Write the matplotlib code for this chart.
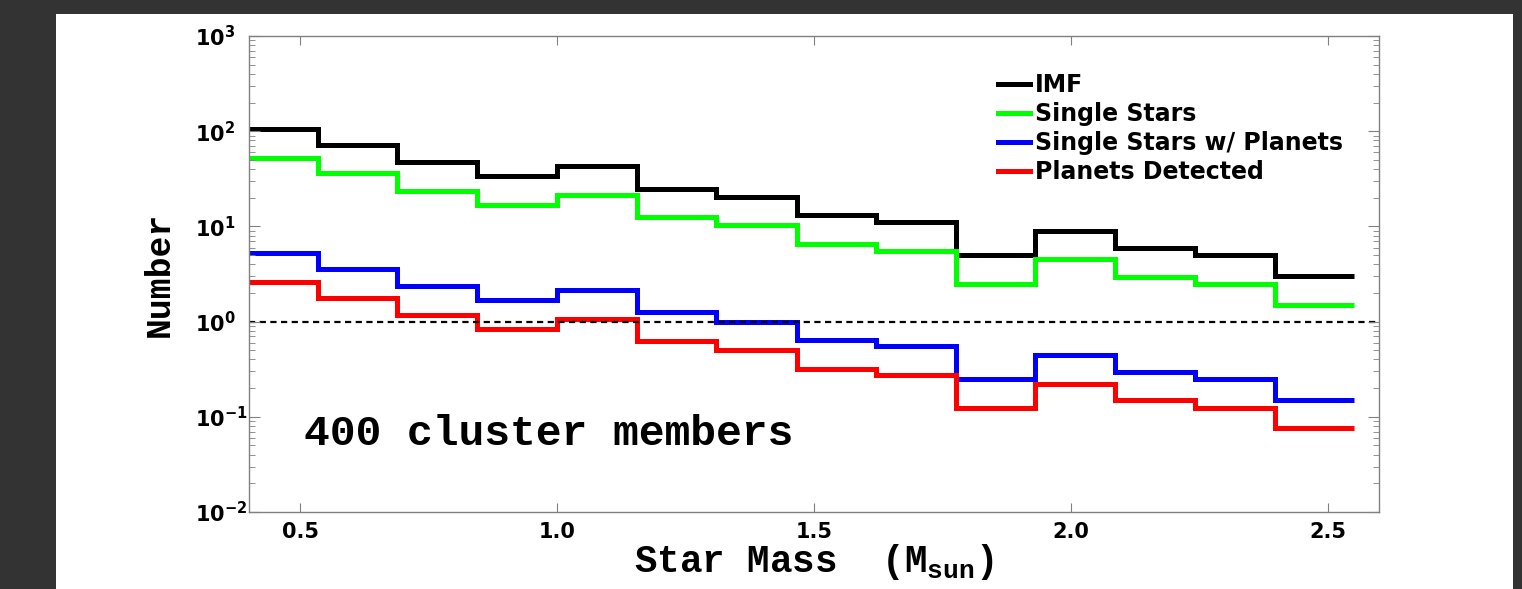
import matplotlib
matplotlib.use('Agg')
import matplotlib.pyplot as plt
from matplotlib.patches import Rectangle
from matplotlib.ticker import LogLocator, NullFormatter

# mass bins (M_sun) and counts
mass_edges = [0.379, 0.534, 0.689, 0.844, 1.000, 1.155, 1.310, 1.466,
              1.621, 1.776, 1.931, 2.086, 2.241, 2.397, 2.552]
imf = [105, 71, 47, 34, 43, 25, 20.5, 13.2, 11, 5, 9, 6, 5, 3]
single = [52, 36, 23.7, 16.9, 21.4, 12.6, 10.4, 6.6, 5.55, 2.48, 4.5, 2.97, 2.48, 1.49]
with_planets = [5.2, 3.55, 2.37, 1.69, 2.15, 1.25, 0.98, 0.64, 0.555, 0.248,
                0.447, 0.298, 0.248, 0.15]
detected = [2.6, 1.78, 1.17, 0.84, 1.06, 0.63, 0.5, 0.32, 0.275, 0.123,
            0.22, 0.15, 0.123, 0.076]

series = [
    (imf, 'black', 'IMF'),
    (single, '#00ff00', 'Single Stars'),
    (with_planets, '#0000ff', 'Single Stars w/ Planets'),
    (detected, '#ff0000', 'Planets Detected'),
]

x_ticks = [0.5, 1.0, 1.5, 2.0, 2.5]
y_exps = [-2, -1, 0, 1, 2, 3]

plt.rcParams['mathtext.fontset'] = 'custom'
plt.rcParams['mathtext.rm'] = 'Liberation Mono:bold'
plt.rcParams['mathtext.bf'] = 'DejaVu Sans:bold'

fig = plt.figure(figsize=(15.22, 5.89), dpi=100, facecolor='#333333')
fig.add_artist(Rectangle((56 / 1522, 0), (1513 - 56) / 1522, (589 - 14) / 589,
                         transform=fig.transFigure, facecolor='white',
                         edgecolor='none', zorder=0))

ax = fig.add_axes([249 / 1522, 1 - 512 / 589, 1130 / 1522, 476 / 589])

for vals, col, lab in series:
    ax.stairs(vals, mass_edges, baseline=None, color=col, lw=3.6, label=lab,
              joinstyle='miter', capstyle='butt')

ax.axhline(1, color='black', lw=1.6, ls=(0, (2.8, 2.0)), zorder=1)

ax.set_yscale('log')
ax.set_xlim(0.4, 2.6)
ax.set_ylim(1e-2, 1e3)

ax.set_xticks(x_ticks)
ax.set_xticklabels([f'{t:.1f}' for t in x_ticks], fontsize=15,
                   fontfamily='DejaVu Sans', fontweight='bold')

# left-aligned so the "10" mantissas line up, as in the original
ax.set_yticks([10.0 ** e for e in y_exps])
ax.set_yticklabels([r'$\mathbf{10^{%d}}$' % e for e in y_exps], fontsize=15,
                   ha='left')
ax.yaxis.set_minor_locator(LogLocator(base=10, subs=range(2, 10), numticks=20))
ax.yaxis.set_minor_formatter(NullFormatter())

for s in ax.spines.values():
    s.set_color('#808080')
    s.set_linewidth(1.0)
ax.tick_params(which='both', direction='in', color='#808080', top=True, right=True)
ax.tick_params(axis='x', which='major', length=6.5, pad=7)
ax.tick_params(axis='y', which='major', length=8, pad=39)
ax.tick_params(axis='y', which='minor', length=4)

ax.set_xlabel(r'Star Mass  (M$_{\mathrm{sun}}$)', fontsize=27,
              fontfamily='Liberation Mono', fontweight='bold', labelpad=0)
ax.set_ylabel('Number', fontsize=25, fontfamily='Liberation Mono',
              fontweight='bold', labelpad=14)

ax.text(0.0487, 0.141, '400 cluster members', transform=ax.transAxes,
        fontsize=31, fontfamily='Liberation Mono', fontweight='bold',
        va='baseline', ha='left')

ax.legend(loc='upper left', bbox_to_anchor=(0.663, 0.922), frameon=False,
          borderpad=0, borderaxespad=0, handlelength=1.36, handletextpad=0.2,
          labelspacing=0.21,
          prop={'family': 'DejaVu Sans', 'weight': 'bold', 'size': 17})

fig.savefig('out.png', dpi=100, facecolor=fig.get_facecolor())
